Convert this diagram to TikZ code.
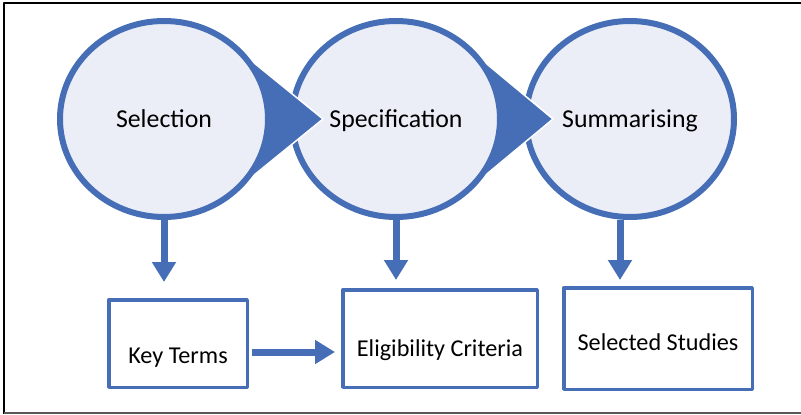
\documentclass[tikz,border=0pt]{standalone}
\usepackage{fontspec}
\setmainfont{Carlito}
\usetikzlibrary{arrows.meta,shapes.geometric,calc}
\definecolor{stageblue}{RGB}{70,110,182}
\definecolor{stagefill}{RGB}{235,238,247}
\begin{document}
\begin{tikzpicture}[x=1pt,y=-1pt,line join=round,
	stage/.style={ellipse,draw=stageblue,fill=stagefill,line width=6pt,minimum width=208pt,minimum height=196pt,inner sep=0pt,
		font=\fontsize{25.8}{30}\selectfont,text height=16.5pt,text depth=0pt},
	pointer/.style={fill=stageblue,draw=white,line width=1.5pt},
	outbox/.style={rectangle,draw=stageblue,line width=3.5pt,inner sep=0pt,font=\fontsize{24.2}{29}\selectfont,text depth=0pt},
	flow/.style={draw=stageblue,line width=7pt,-{Triangle[width=23pt,length=20pt]}}]
		\useasboundingbox (0,0) rectangle (801,415);
		\draw[line width=2pt] (4,414)--(4,3)--(801,3);
		\draw[black!65,line width=1.5pt] (4,413)--(801,413);
		% stages, drawn right to left so each pointer lies on the next circle
		\coordinate (sel-c) at (164,119);
		\coordinate (spec-c) at (396,119);
		\coordinate (sel-tip) at (323,119);
		\coordinate (spec-tip) at (553,119);
		\node[stage] (summ) at (630,119) {Summarising};
		\path[pointer] ($(spec-c)+(68,-74)$)--(spec-tip)--($(spec-c)+(68,74)$)--cycle;
		\node[stage] (spec) at (spec-c) {Specification};
		\path[pointer] ($(sel-c)+(68,-74)$)--(sel-tip)--($(sel-c)+(68,74)$)--cycle;
		\node[stage] (sel) at (sel-c) {Selection};
		% outcomes
		\node[outbox,minimum width=138.5pt,minimum height=87.5pt,text height=40pt] (kt) at (178,343.5) {Key Terms\hspace{10pt}};
		\node[outbox,minimum width=194.5pt,minimum height=97.5pt,text height=36pt] (ec) at (440,338.5) {Eligibility Criteria};
		\node[outbox,minimum width=188.5pt,minimum height=101.5pt,text height=24pt] (ss) at (658,338.5) {Selected Studies};
		\draw[flow,shorten >=16pt] (sel.south)--(sel.south |- kt.north);
		\draw[flow,shorten >=8pt] (spec.south)--(spec.south |- ec.north);
		\path (summ.south) ++(-10,0) coordinate (summ-out);
		\draw[flow,shorten >=6pt] (summ-out)--(summ-out |- ss.north);
		\path (kt.east) ++(0,8.5) coordinate (kt-out);
		\draw[flow,shorten <=3pt,shorten >=6pt] (kt-out)--(kt-out -| ec.west);
	\end{tikzpicture}
\end{document}
